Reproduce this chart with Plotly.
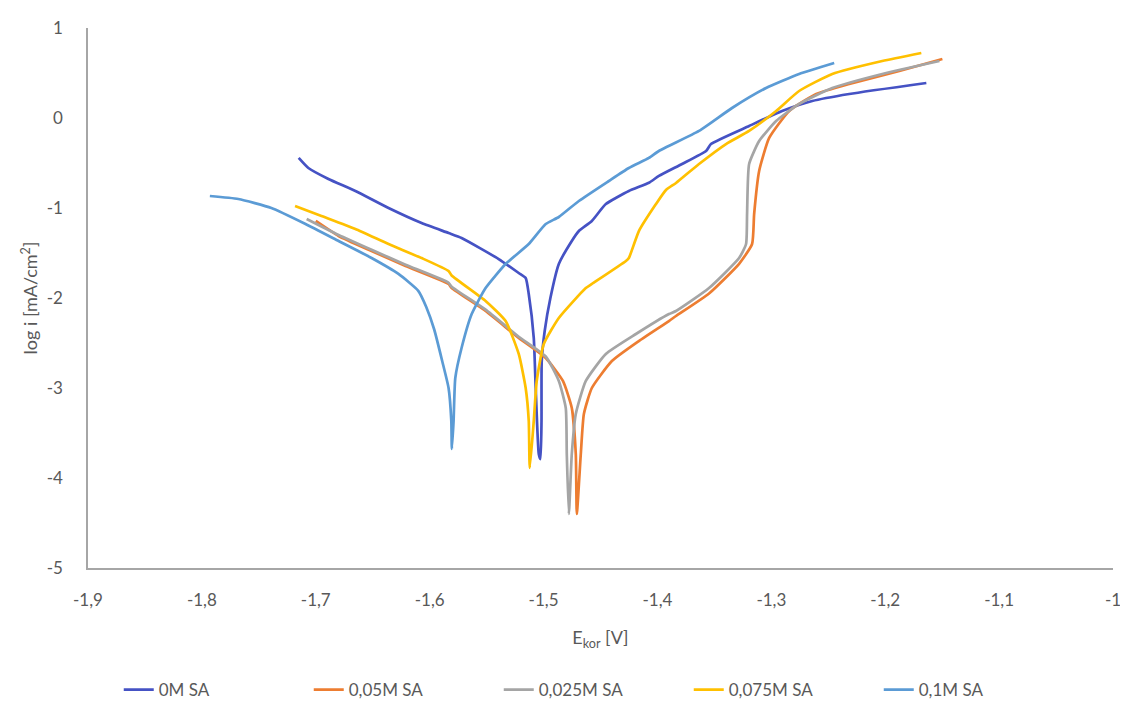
import plotly.graph_objects as go

# 0M SA
x_0 = [-1.715, -1.7065, -1.6889, -1.6652, -1.6361, -1.6071, -1.5834, -1.572, -1.5394, -1.5218, -1.5157,
       -1.513, -1.5086, -1.5069, -1.5042, -1.5027,
       -1.5018, -1.5016, -1.499, -1.494, -1.4866, -1.4752, -1.469, -1.4576, -1.4453, -1.4251, -1.4075,
       -1.3987, -1.3784, -1.3573, -1.353, -1.3195, -1.2905, -1.2641, -1.2316, -1.1639]
y_0 = [-0.444, -0.556, -0.678, -0.811, -1.0, -1.167, -1.278, -1.333, -1.567, -1.722, -1.778,
       -1.956, -2.444, -3.0, -3.733, -3.79,
       -3.37, -2.7, -2.367, -2.0, -1.622, -1.367, -1.256, -1.144, -0.956, -0.811, -0.72,
       -0.644, -0.511, -0.367, -0.289, -0.089, 0.078, 0.189, 0.267, 0.389]

# 0,05M SA
x_05 = [-1.700, -1.680, -1.651, -1.6212, -1.5834, -1.5807, -1.5509, -1.5218, -1.4981, -1.483,
        -1.4752, -1.4717, -1.4708,
        -1.4673, -1.4646, -1.4576, -1.44, -1.4163, -1.3899, -1.3837, -1.3547, -1.3283, -1.3169,
        -1.3151, -1.3107, -1.3019, -1.2843, -1.2606, -1.2316, -1.1876, -1.1498]
y_05 = [-1.144, -1.311, -1.478, -1.644, -1.844, -1.889, -2.144, -2.444, -2.667, -2.922,
        -3.222, -3.733, -4.4,
        -3.733, -3.289, -3.0, -2.7, -2.478, -2.256, -2.2, -1.95, -1.62, -1.4,
        -1.067, -0.589, -0.222, 0.078, 0.267, 0.378, 0.522, 0.656]

# 0,025M SA
x_025 = [-1.708, -1.680, -1.651, -1.6212, -1.5834, -1.5807, -1.5509, -1.5218, -1.4981, -1.4866,
         -1.4805, -1.4796, -1.4778,
         -1.4752, -1.4717, -1.4629, -1.4453, -1.4189, -1.3899, -1.3837, -1.3547, -1.3283, -1.3222,
         -1.3213, -1.3195, -1.3107, -1.2958, -1.2756, -1.2465, -1.2026, -1.1524]
y_025 = [-1.122, -1.30, -1.465, -1.63, -1.83, -1.875, -2.13, -2.43, -2.65, -2.922,
         -3.222, -3.733, -4.4,
         -3.733, -3.289, -2.922, -2.622, -2.4, -2.178, -2.144, -1.889, -1.556, -1.4,
         -1.067, -0.511, -0.256, -0.033, 0.156, 0.333, 0.489, 0.633]

# 0,075M SA
x_075 = [-1.7182, -1.695, -1.6652, -1.6361, -1.6071, -1.5834, -1.5807, -1.5509, -1.5333, -1.5218,
         -1.5157, -1.513, -1.5121,
         -1.5086, -1.506, -1.4998, -1.4866, -1.4629, -1.4576, -1.4277, -1.4251, -1.4163, -1.4013,
         -1.3925, -1.3837, -1.3635, -1.3398, -1.3195, -1.2958, -1.2756, -1.2465, -1.2026, -1.1683]
y_075 = [-0.978, -1.089, -1.233, -1.4, -1.556, -1.7, -1.75, -2.033, -2.256, -2.622,
         -3.0, -3.367, -3.889,
         -3.367, -2.922, -2.511, -2.222, -1.889, -1.844, -1.589, -1.556, -1.256, -0.956,
         -0.8, -0.722, -0.511, -0.289, -0.144, 0.078, 0.3, 0.489, 0.633, 0.722]

# 0,1M SA
x_1 = [-1.793, -1.768, -1.739, -1.709, -1.680, -1.651, -1.6274, -1.61, -1.603, -1.596,
       -1.589, -1.5834, -1.581, -1.5805,
       -1.579, -1.5775, -1.572, -1.5631, -1.5509, -1.5333, -1.513, -1.4981, -1.4866, -1.469,
       -1.4427, -1.4251, -1.4075, -1.3987, -1.3635, -1.3345, -1.3046, -1.2756, -1.2448]
y_1 = [-0.867, -0.9, -1.0, -1.178, -1.367, -1.556, -1.733, -1.92, -2.1, -2.35,
       -2.7, -3.0, -3.367, -3.678,
       -3.367, -2.889, -2.556, -2.178, -1.889, -1.622, -1.4, -1.178, -1.1, -0.922,
       -0.7, -0.556, -0.444, -0.367, -0.144, 0.111, 0.333, 0.489, 0.611]

series = [
    ("0M SA", x_0, y_0, "#4552C4"),
    ("0,05M SA", x_05, y_05, "#ED7D31"),
    ("0,025M SA", x_025, y_025, "#A5A5A5"),
    ("0,075M SA", x_075, y_075, "#FFC000"),
    ("0,1M SA", x_1, y_1, "#5B9BD5"),
]

x_ticks = [-1.9, -1.8, -1.7, -1.6, -1.5, -1.4, -1.3, -1.2, -1.1, -1.0]
x_ticktext = ["-1,9", "-1,8", "-1,7", "-1,6", "-1,5", "-1,4", "-1,3", "-1,2", "-1,1", "-1"]
y_ticks = [1, 0, -1, -2, -3, -4, -5]
y_ticktext = ["1", "0", "-1", "-2", "-3", "-4", "-5"]

fig = go.Figure()
for name, xs, ys, col in series:
    fig.add_trace(go.Scatter(x=xs, y=ys, mode="lines", name=name,
                             line=dict(color=col, width=2.7, shape="spline", smoothing=0.5)))

font = "Lato, 'Open Sans', sans-serif"
fig.update_layout(
    width=1120, height=694,
    margin=dict(l=80, r=15, t=20, b=134, autoexpand=False),
    paper_bgcolor="white", plot_bgcolor="white",
    font=dict(family=font, size=17, color="#595959"),
    showlegend=True,
    legend=dict(orientation="h", x=0.03, xanchor="left", y=-0.226, yanchor="middle",
                font=dict(size=17, color="#595959"),
                entrywidth=145, entrywidthmode="pixels"),
    xaxis=dict(range=[-1.9, -1.0], tickvals=x_ticks, ticktext=x_ticktext,
               showgrid=False, zeroline=False, automargin=False,
               showline=True, linecolor="#A6A6A6", linewidth=1.5, ticks="",
               ticklabelstandoff=16,
               tickfont=dict(size=17, color="#595959"),
               title=dict(text="E<sub>kor</sub> [V]", standoff=22,
                          font=dict(size=18, color="#595959"))),
    yaxis=dict(range=[-5, 1], tickvals=y_ticks, ticktext=y_ticktext,
               showgrid=False, zeroline=False, automargin=False,
               showline=True, linecolor="#A6A6A6", linewidth=1.5, ticks="",
               ticklabelstandoff=20,
               tickfont=dict(size=17, color="#595959"),
               title=dict(text="log i [mA/cm<sup>2</sup>]", standoff=4,
                          font=dict(size=18, color="#595959"))),
)

fig.write_html("out.html")
